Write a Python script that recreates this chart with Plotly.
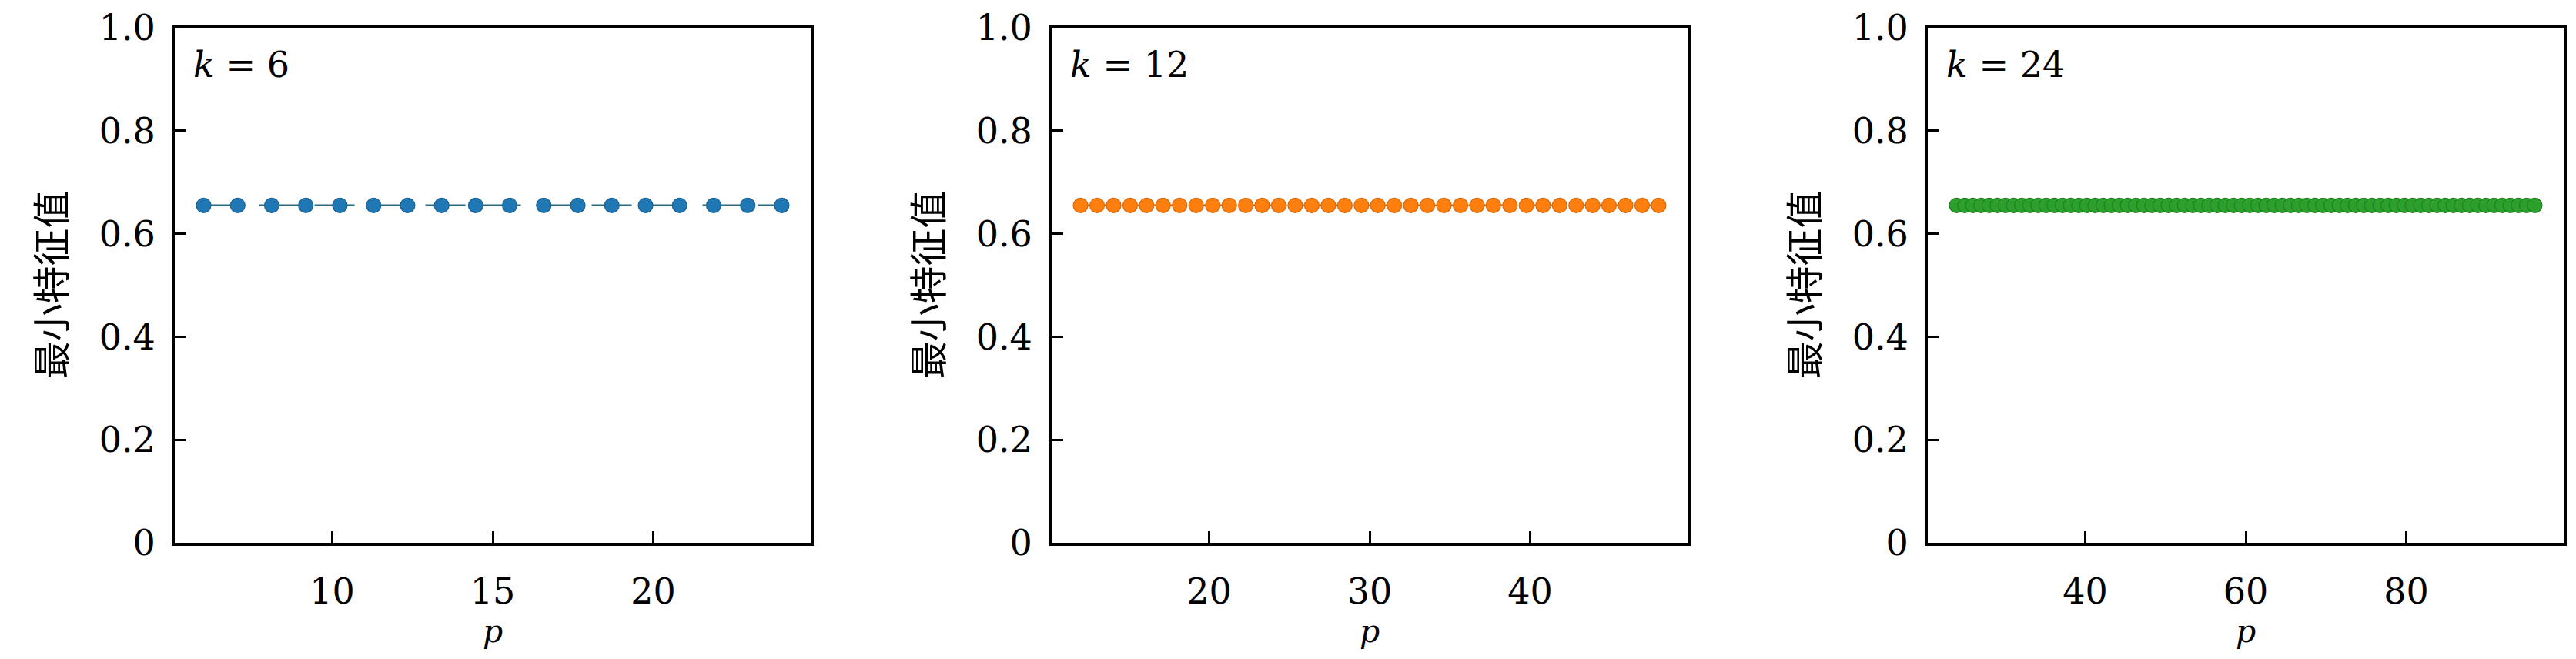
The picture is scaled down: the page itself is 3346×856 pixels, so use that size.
import plotly.graph_objects as go

# ---------------- data ----------------
k_values = [6, 12, 24]

p_k6 = [6.00, 7.06, 8.12, 9.18, 10.24, 11.29, 12.35, 13.41, 14.47, 15.53,
        16.59, 17.65, 18.71, 19.76, 20.82, 21.88, 22.94, 24.00]
val_k6 = [0.655, 0.655, 0.655, 0.655, 0.655, 0.655, 0.655, 0.655, 0.655, 0.655,
          0.655, 0.655, 0.655, 0.655, 0.655, 0.655, 0.655, 0.655]

p_k12 = [12.00, 13.03, 14.06, 15.09, 16.11, 17.14, 18.17, 19.20, 20.23, 21.26,
         22.29, 23.31, 24.34, 25.37, 26.40, 27.43, 28.46, 29.49, 30.51, 31.54,
         32.57, 33.60, 34.63, 35.66, 36.69, 37.71, 38.74, 39.77, 40.80, 41.83,
         42.86, 43.89, 44.91, 45.94, 46.97, 48.00]
val_k12 = [0.655, 0.655, 0.655, 0.655, 0.655, 0.655, 0.655, 0.655, 0.655, 0.655,
           0.655, 0.655, 0.655, 0.655, 0.655, 0.655, 0.655, 0.655, 0.655, 0.655,
           0.655, 0.655, 0.655, 0.655, 0.655, 0.655, 0.655, 0.655, 0.655, 0.655,
           0.655, 0.655, 0.655, 0.655, 0.655, 0.655]

p_k24 = [24.00, 25.01, 26.03, 27.04, 28.06, 29.07, 30.08, 31.10, 32.11, 33.13,
         34.14, 35.15, 36.17, 37.18, 38.20, 39.21, 40.23, 41.24, 42.25, 43.27,
         44.28, 45.30, 46.31, 47.32, 48.34, 49.35, 50.37, 51.38, 52.39, 53.41,
         54.42, 55.44, 56.45, 57.46, 58.48, 59.49, 60.51, 61.52, 62.54, 63.55,
         64.56, 65.58, 66.59, 67.61, 68.62, 69.63, 70.65, 71.66, 72.68, 73.69,
         74.70, 75.72, 76.73, 77.75, 78.76, 79.77, 80.79, 81.80, 82.82, 83.83,
         84.85, 85.86, 86.87, 87.89, 88.90, 89.92, 90.93, 91.94, 92.96, 93.97,
         94.99, 96.00]
val_k24 = [0.655, 0.655, 0.655, 0.655, 0.655, 0.655, 0.655, 0.655, 0.655, 0.655,
           0.655, 0.655, 0.655, 0.655, 0.655, 0.655, 0.655, 0.655, 0.655, 0.655,
           0.655, 0.655, 0.655, 0.655, 0.655, 0.655, 0.655, 0.655, 0.655, 0.655,
           0.655, 0.655, 0.655, 0.655, 0.655, 0.655, 0.655, 0.655, 0.655, 0.655,
           0.655, 0.655, 0.655, 0.655, 0.655, 0.655, 0.655, 0.655, 0.655, 0.655,
           0.655, 0.655, 0.655, 0.655, 0.655, 0.655, 0.655, 0.655, 0.655, 0.655,
           0.655, 0.655, 0.655, 0.655, 0.655, 0.655, 0.655, 0.655, 0.655, 0.655,
           0.655, 0.655]

y_ticks = [0, 0.2, 0.4, 0.6, 0.8, 1.0]
y_tick_labels = ["0", "0.2", "0.4", "0.6", "0.8", "1.0"]
x_ticks_k6 = [10, 15, 20]
x_ticks_k12 = [20, 30, 40]
x_ticks_k24 = [40, 60, 80]
x_ranges = [[5.1, 24.9], [10.2, 49.8], [20.4, 99.6]]
y_title = "最小特征值"
x_title = "p"

# ---------------- styling / layout ----------------
PAGE_W, PAGE_H = 3346, 856
BODY_MARGIN = 8  # default browser body margin around the plot div
W, H = PAGE_W - 2 * BODY_MARGIN, PAGE_H - 2 * BODY_MARGIN

colors = ["#1f77b4", "#ff7f0e", "#2ca02c"]
edge_colors = ["#1a6396", "#d96a0b", "#237f23"]
line_colors = ["#2b6a7a", "#c86a10", "#237f23"]

panel_px = [(227, 1053), (1366, 2192), (2504, 3330)]  # page pixel positions
top_px, bot_px = 36, 705

SERIF = "DejaVu Serif, Liberation Serif, serif"
CJK = "Noto Sans CJK SC"
TICK_SIZE = 46


def px_x(px):
    return (px - BODY_MARGIN) / W


def px_y(py):
    return 1 - (py - BODY_MARGIN) / H


fig = go.Figure()

series = [(p_k6, val_k6, x_ticks_k6), (p_k12, val_k12, x_ticks_k12), (p_k24, val_k24, x_ticks_k24)]

for i, (xs, ys, xt) in enumerate(series):
    n = i + 1
    xa = "x" if n == 1 else f"x{n}"
    ya = "y" if n == 1 else f"y{n}"
    fig.add_trace(go.Scatter(
        x=xs, y=ys, mode="lines+markers", xaxis=xa, yaxis=ya,
        line=dict(color=line_colors[i], width=2.5, dash="52px,20px"),
        marker=dict(size=19, color=colors[i], line=dict(color=edge_colors[i], width=1.2)),
        showlegend=False,
    ))
    l, r = panel_px[i]
    axis_common = dict(
        showline=True, linewidth=4, linecolor="black", mirror=True,
        ticks="inside", ticklen=15, tickwidth=3, tickcolor="black",
        showgrid=False, zeroline=False, automargin=False,
        tickfont=dict(family=SERIF, size=TICK_SIZE, color="black"),
    )
    fig.update_layout(**{
        ("xaxis" if n == 1 else f"xaxis{n}"): dict(
            domain=[px_x(l), px_x(r)], range=x_ranges[i], anchor=ya,
            tickmode="array", tickvals=xt, ticktext=[str(v) for v in xt],
            ticklabelstandoff=20, **axis_common),
        ("yaxis" if n == 1 else f"yaxis{n}"): dict(
            domain=[px_y(bot_px), px_y(top_px)], range=[0, 1], anchor=xa,
            tickmode="array", tickvals=y_ticks, ticktext=y_tick_labels,
            ticklabelstandoff=12, **axis_common),
    })
    # panel label
    fig.add_annotation(
        x=px_x(l + 22), y=px_y(84), xref="paper", yref="paper",
        xanchor="left", yanchor="middle", showarrow=False,
        text="<i>k</i> = " + str(k_values[i]),
        font=dict(family=SERIF, size=TICK_SIZE, color="black"),
    )
    # y title
    fig.add_annotation(
        x=px_x(l - 164), y=px_y((top_px + bot_px) / 2), xref="paper", yref="paper",
        xanchor="center", yanchor="middle", showarrow=False, textangle=-90,
        text=y_title, font=dict(family=CJK, size=49, color="black"),
    )
    # x title
    fig.add_annotation(
        x=px_x((l + r) / 2), y=px_y(820), xref="paper", yref="paper",
        xanchor="center", yanchor="middle", showarrow=False,
        text="<i>" + x_title + "</i>",
        font=dict(family=SERIF, size=41, color="black"),
    )

fig.update_layout(
    width=W, height=H,
    margin=dict(l=0, r=0, t=0, b=0, pad=0, autoexpand=False),
    paper_bgcolor="white", plot_bgcolor="white",
)

fig.write_html("out.html")
